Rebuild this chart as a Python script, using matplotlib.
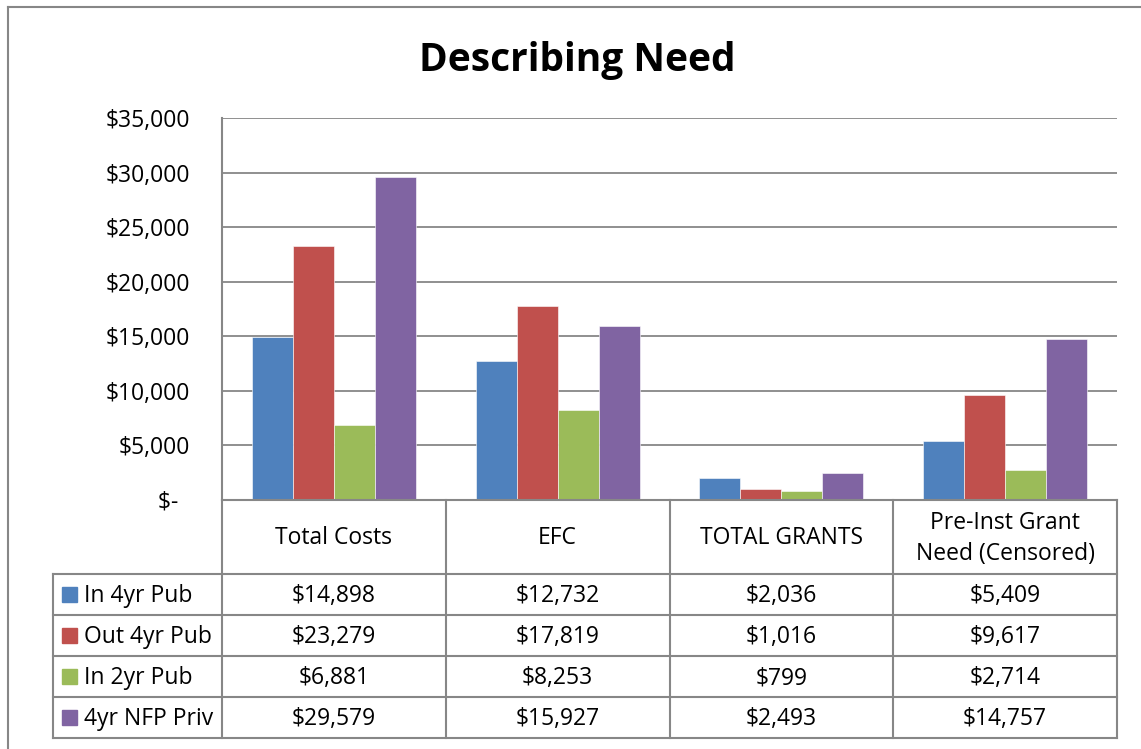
import matplotlib.pyplot as plt
from matplotlib.patches import Rectangle

plt.rcParams['font.family'] = ['Open Sans', 'DejaVu Sans']

categories = ['Total Costs', 'EFC', 'TOTAL GRANTS', 'Pre-Inst Grant\nNeed (Censored)']
series_names = ['In 4yr Pub', 'Out 4yr Pub', 'In 2yr Pub', '4yr NFP Priv']
in_4yr_pub = [14898, 12732, 2036, 5409]
out_4yr_pub = [23279, 17819, 1016, 9617]
in_2yr_pub = [6881, 8253, 799, 2714]
nfp_4yr_priv = [29579, 15927, 2493, 14757]
series_values = [in_4yr_pub, out_4yr_pub, in_2yr_pub, nfp_4yr_priv]
colors = ['#4F81BD', '#C0504D', '#9BBB59', '#8064A2']
y_ticks = [0, 5000, 10000, 15000, 20000, 25000, 30000, 35000]

W, H = 1141, 749
grid_col = '#878787'
fs = 16.5


def fig_rect(x0, y0, x1, y1):
    # pixel box (top-left origin) -> figure fraction
    return [x0 / W, 1 - y1 / H, (x1 - x0) / W, (y1 - y0) / H]


fig = plt.figure(figsize=(W / 100, H / 100), dpi=100)

# outer chart border (left and top only are visible in the crop)
fig.add_artist(plt.Line2D([7.5 / W, 7.5 / W], [0, 1 - 7 / H], transform=fig.transFigure,
                          color=grid_col, lw=1.5))
fig.add_artist(plt.Line2D([7.5 / W, 1], [1 - 7 / H, 1 - 7 / H], transform=fig.transFigure,
                          color=grid_col, lw=1.5))

# bar plot area
ax = fig.add_axes(fig_rect(222, 118, 1117, 500))
n = len(series_values)
bw = 0.183
for i, (vals, c) in enumerate(zip(series_values, colors)):
    xs = [k + (i - (n - 1) / 2) * bw for k in range(len(categories))]
    ax.bar(xs, vals, width=bw, color=c, edgecolor='white', linewidth=0.4, zorder=3)

ax.set_xlim(-0.5, len(categories) - 0.5)
ax.set_ylim(0, 35000)
ax.set_yticks(y_ticks)
ax.set_yticklabels(['$-  '] + ['${:,}'.format(v) for v in y_ticks[1:]], fontsize=fs)
ax.tick_params(axis='y', length=0, pad=23)
ax.set_xticks([])
ax.grid(axis='y', color=grid_col, lw=1.3, zorder=0)
for s in ['top', 'right', 'bottom']:
    ax.spines[s].set_visible(False)
ax.spines['left'].set_color(grid_col)
ax.spines['left'].set_linewidth(1.5)

# data table below the plot area
tab = fig.add_axes(fig_rect(53, 500, 1117, 740))
unit = (1117 - 222) / len(categories)
left = -0.5 - (222 - 53) / unit
right = len(categories) - 0.5
tab.set_xlim(left, right)
tab.set_ylim(240, 0)
tab.axis('off')

head_h = 74
row_h = 41
row_tops = [head_h + r * row_h for r in range(n + 1)]
lc = dict(color=grid_col, lw=1.5, clip_on=False)

# grid of the table
tab.plot([-0.5, right], [0, 0], **lc)
for k in range(len(categories) + 1):
    tab.plot([k - 0.5, k - 0.5], [0, row_tops[-1]], **lc)
for y in row_tops:
    tab.plot([left, right], [y, y], **lc)
tab.plot([left, left], [row_tops[0], row_tops[-1]], **lc)

for k, cat in enumerate(categories):
    tab.text(k, head_h / 2 + 1.5, cat, ha='center', va='center', fontsize=fs, linespacing=1.42)

for r, (name, vals, c) in enumerate(zip(series_names, series_values, colors)):
    yc = row_tops[r] + row_h / 2
    tab.add_patch(Rectangle((left + 9 / unit, yc - 7.5), 15 / unit, 15, color=c))
    tab.text(left + 31 / unit, yc + 1.5, name, ha='left', va='center', fontsize=fs)
    for k, v in enumerate(vals):
        tab.text(k, yc + 1.5, '${:,}'.format(v), ha='center', va='center', fontsize=fs)

fig.text(577 / W, 1 - 61 / H, 'Describing Need', ha='center', va='center',
         fontsize=28, fontweight='bold')

fig.savefig('out.png', dpi=100)
